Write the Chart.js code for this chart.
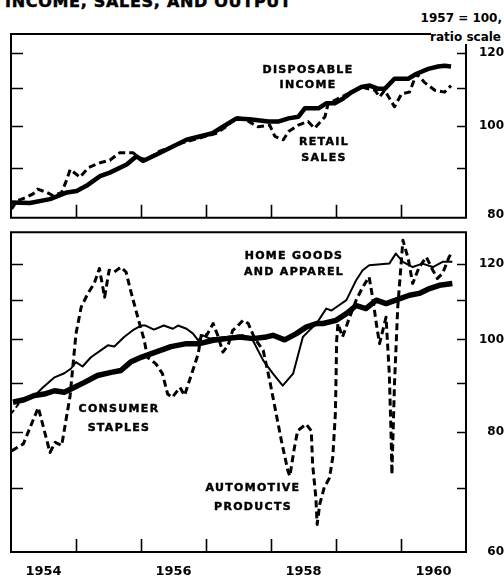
<!DOCTYPE html>
<html><head><meta charset="utf-8">
<script src="https://cdn.jsdelivr.net/npm/chart.js@4"></script>
<style>
html,body{margin:0;padding:0;background:#fff;}
body{width:504px;height:577px;position:relative;overflow:hidden;font-family:"DejaVu Sans",sans-serif;}
canvas{position:absolute;left:0;}
#c1{top:0;}
#c2{top:225px;}
.t{position:absolute;font-weight:bold;color:#000;white-space:nowrap;}
.ann{position:absolute;font-weight:bold;font-size:11px;letter-spacing:1.3px;text-align:center;transform:translateX(-50%);white-space:nowrap;color:#000;-webkit-text-stroke:0.45px #000;}
</style></head><body>
<div class="t" style="left:5px;top:-6px;font-size:16px;line-height:16px;letter-spacing:0.7px;-webkit-text-stroke:0.5px #000;">INCOME, SALES, AND OUTPUT</div>
<div class="t" style="right:2px;top:11px;font-size:12px;line-height:15px;">1957 = 100,</div>
<div class="t" style="right:3px;top:30px;font-size:12px;line-height:15px;">ratio scale</div>
<canvas id="c1" width="504" height="225"></canvas>
<canvas id="c2" width="504" height="352"></canvas>
<div class="ann" style="left:308px;top:62px;line-height:15px;">DISPOSABLE<br>INCOME</div>
<div class="ann" style="left:324px;top:134px;line-height:16px;">RETAIL<br>SALES</div>
<div class="ann" style="left:294px;top:248px;line-height:16px;">HOME GOODS<br>AND APPAREL</div>
<div class="ann" style="left:119px;top:399px;line-height:19px;">CONSUMER<br>STAPLES</div>
<div class="ann" style="left:253px;top:478px;line-height:19px;">AUTOMOTIVE<br>PRODUCTS</div>
<script>
// ---- data (1957 = 100), x in decimal years ----
const incomeT = [1954.01,1954.29,1954.60,1954.86,1955.01,1955.16,1955.37,1955.52,1955.78,1955.93,1956.03,1956.24,1956.49,1956.70,1956.90,1957.10,1957.26,1957.47,1957.67,1957.96,1958.11,1958.27,1958.42,1958.52,1958.73,1958.85,1958.98,1959.11,1959.24,1959.39,1959.52,1959.65,1959.75,1959.90,1960.11,1960.24,1960.42,1960.57,1960.67,1960.77];
const incomeV = [82.6,82.5,83.3,84.7,85.0,86.1,88.2,89.0,90.8,92.7,91.6,93.1,95.0,96.6,97.4,98.2,99.8,101.9,101.7,101.1,101.1,101.9,102.3,104.5,104.5,105.8,105.8,107.1,108.8,110.2,110.6,109.7,109.7,112.5,112.5,113.9,115.3,116.0,116.2,116.0];

const retailT = [1954.01,1954.09,1954.24,1954.34,1954.41,1954.55,1954.65,1954.78,1954.86,1954.91,1955.06,1955.19,1955.37,1955.52,1955.67,1955.88,1955.98,1956.08,1956.29,1956.49,1956.62,1956.90,1957.16,1957.31,1957.47,1957.62,1957.70,1957.80,1957.98,1958.06,1958.19,1958.27,1958.42,1958.57,1958.67,1958.83,1958.88,1958.98,1959.19,1959.39,1959.60,1959.67,1959.75,1959.90,1960.01,1960.13,1960.24,1960.36,1960.52,1960.67,1960.77];
const retailV = [81.3,82.9,83.7,84.4,85.4,84.7,84.0,84.7,87.5,89.7,88.0,90.1,91.2,91.8,93.5,93.5,92.3,91.9,93.9,95.0,95.8,97.0,98.2,99.8,102.2,101.5,100.7,99.8,100.2,97.4,96.6,98.6,100.2,101.1,99.4,102.3,105.8,106.6,108.4,110.2,109.3,107.5,109.3,104.9,108.4,108.8,113.9,111.5,109.3,108.8,110.6];

const staplesT = [1954.03,1954.20,1954.36,1954.51,1954.67,1954.82,1954.97,1955.13,1955.33,1955.54,1955.69,1955.84,1956.00,1956.15,1956.30,1956.46,1956.70,1956.90,1957.11,1957.31,1957.52,1957.72,1957.93,1958.03,1958.21,1958.39,1958.54,1958.70,1958.80,1959.00,1959.16,1959.31,1959.46,1959.62,1959.77,1959.92,1960.13,1960.28,1960.44,1960.59,1960.79];
const staplesV = [86.0,86.5,87.4,87.7,88.4,88.1,89.1,90.2,91.7,92.4,92.8,94.7,95.8,96.6,97.4,98.3,99.0,99.0,99.8,100.2,100.6,100.2,100.6,101.0,99.9,101.4,103.0,103.9,103.9,104.7,106.4,108.5,107.7,109.9,109.0,109.9,111.2,111.7,113.0,113.9,114.4];

const homeT = [1954.00,1954.12,1954.23,1954.35,1954.49,1954.67,1954.82,1954.92,1955.00,1955.10,1955.23,1955.38,1955.49,1955.59,1955.74,1955.89,1956.00,1956.07,1956.20,1956.35,1956.49,1956.57,1956.70,1956.80,1956.88,1956.95,1957.06,1957.31,1957.57,1957.72,1957.88,1958.03,1958.18,1958.34,1958.49,1958.59,1958.70,1958.85,1958.93,1959.16,1959.31,1959.41,1959.51,1959.82,1959.92,1960.03,1960.18,1960.33,1960.49,1960.64,1960.79];
const homeV = [83.6,85.7,86.5,87.2,89.1,91.3,92.2,93.2,94.7,93.7,95.8,97.4,98.6,98.3,100.6,102.4,103.4,103.4,102.4,103.4,102.6,103.4,102.6,101.4,99.8,101.0,100.2,100.6,101.0,99.8,95.1,92.1,89.5,92.1,100.6,102.2,103.9,107.7,107.2,109.9,115.3,118.1,119.5,120.0,122.9,120.5,119.0,120.0,119.0,120.5,120.5];

const autoT = [1954.01,1954.19,1954.42,1954.60,1954.68,1954.78,1954.91,1954.95,1955.00,1955.08,1955.18,1955.28,1955.36,1955.44,1955.51,1955.59,1955.69,1955.77,1955.84,1955.95,1956.05,1956.10,1956.23,1956.33,1956.41,1956.48,1956.60,1956.67,1956.78,1956.88,1956.93,1957.01,1957.11,1957.18,1957.26,1957.34,1957.41,1957.47,1957.57,1957.65,1957.75,1957.88,1957.98,1958.08,1958.16,1958.26,1958.29,1958.36,1958.41,1958.54,1958.62,1958.64,1958.69,1958.71,1958.75,1958.82,1958.90,1958.95,1958.99,1959.00,1959.01,1959.03,1959.10,1959.21,1959.31,1959.41,1959.51,1959.57,1959.62,1959.67,1959.72,1959.77,1959.82,1959.85,1959.86,1959.90,1959.95,1960.03,1960.11,1960.18,1960.28,1960.39,1960.49,1960.56,1960.64,1960.74,1960.79];
const autoV = [76.5,77.8,84.9,76.2,78.1,77.5,87.4,93.5,101.4,108.1,111.6,114.4,118.6,110.7,118.1,117.6,119.0,117.6,112.5,105.5,99.8,95.8,94.3,92.1,87.7,87.0,89.1,87.4,92.1,96.6,101.4,101.0,103.9,101.0,97.0,98.6,102.2,103.0,104.7,103.9,100.2,97.4,90.6,83.6,78.4,72.9,72.0,77.1,80.3,81.6,80.3,74.1,68.4,64.1,67.3,70.1,71.7,75.3,83.6,90.6,99.8,103.9,100.6,105.5,109.9,113.4,116.2,109.9,103.9,99.0,102.2,105.5,92.1,78.4,72.3,90.0,108.1,126.9,121.5,114.4,119.0,121.9,118.1,115.8,117.2,121.9,123.4];

const topTickLabels = [80, 100, 120];
const topTickMarks = [90, 100, 110, 120];
const botTickLabels = [60, 80, 100, 120];
const botTickMarks = [70, 80, 90, 100, 110, 120];
const yearMarks = [1955, 1956, 1957, 1958, 1959, 1960];
const yearLabels = [1954, 1956, 1958, 1960];

// ---- drawing ----
const pts = (T, V) => T.map((t, i) => ({x: t, y: V[i]}));

const framePlugin = {
  id: 'frame',
  afterDraw(chart, args, o) {
    const {ctx, chartArea: a, scales} = chart;
    ctx.save();
    ctx.strokeStyle = '#000';
    ctx.lineWidth = 2;
    ctx.beginPath();
    if (o.open) {
      ctx.moveTo(o.open.topEnd, a.top);
      ctx.lineTo(a.left, a.top);
      ctx.lineTo(a.left, a.bottom);
      ctx.lineTo(a.right, a.bottom);
      ctx.lineTo(a.right, o.open.rightStart);
    } else {
      ctx.rect(a.left, a.top, a.right - a.left, a.bottom - a.top);
    }
    ctx.stroke();
    ctx.lineWidth = 1.6;
    ctx.beginPath();
    o.yMarks.forEach(v => {
      const py = Math.round(scales.y.getPixelForValue(v)) + 0.5;
      ctx.moveTo(a.left, py); ctx.lineTo(a.left + 12, py);
      ctx.moveTo(a.right - 9, py); ctx.lineTo(a.right, py);
    });
    o.xMarks.forEach(v => {
      const px = Math.round(scales.x.getPixelForValue(v)) + 0.5;
      ctx.moveTo(px, a.bottom); ctx.lineTo(px, a.bottom - 13);
    });
    ctx.stroke();
    ctx.restore();
  }
};

function yScale(min, max, labels) {
  return {
    type: 'logarithmic', position: 'right', min, max,
    afterBuildTicks: s => { s.ticks = labels.map(v => ({value: v})); },
    afterFit: s => { s.width = 38; },
    ticks: {crossAlign: 'far', padding: 0, color: '#000', autoSkip: false,
      font: {family: 'DejaVu Sans', weight: 'bold', size: 12},
      callback: v => String(v)},
    grid: {display: false, drawTicks: false},
    border: {display: false}
  };
}

function baseOpts(padding, y, x, frameOpts) {
  return {
    responsive: false, animation: false, events: [],
    layout: {padding},
    plugins: {legend: {display: false}, tooltip: {enabled: false}, frame: frameOpts},
    elements: {point: {radius: 0}, line: {tension: 0, borderJoinStyle: 'round', borderCapStyle: 'butt', fill: false}},
    scales: {x, y}
  };
}

new Chart(document.getElementById('c1'), {
  type: 'line',
  data: {datasets: [
    {data: pts(retailT, retailV), borderColor: '#000', borderWidth: 3, borderDash: [7, 4]},
    {data: pts(incomeT, incomeV), borderColor: '#000', borderWidth: 4.5}
  ]},
  options: baseOpts({left: 11, top: 34, bottom: 6, right: 0},
    yScale(79.5, 125.8, topTickLabels),
    {type: 'linear', min: 1954, max: 1961, display: false},
    {yMarks: topTickMarks, xMarks: yearMarks, open: {topEnd: 431, rightStart: 44}}),
  plugins: [framePlugin]
});

new Chart(document.getElementById('c2'), {
  type: 'line',
  data: {datasets: [
    {data: pts(autoT, autoV), borderColor: '#000', borderWidth: 3, borderDash: [7, 4]},
    {data: pts(homeT, homeV), borderColor: '#000', borderWidth: 2,
      segment: {borderDash: c => c.p0DataIndex < 2 ? [5, 3] : undefined}},
    {data: pts(staplesT, staplesV), borderColor: '#000', borderWidth: 5.5}
  ]},
  options: baseOpts({left: 11, top: 7, bottom: 0, right: 0},
    yScale(60, 129.4, botTickLabels),
    {type: 'linear', min: 1954, max: 1961, position: 'bottom',
      afterBuildTicks: s => { s.ticks = yearLabels.map(v => ({value: v + 0.5})); },
      afterFit: s => { s.height = 25; },
      ticks: {autoSkip: false, maxRotation: 0, padding: 12, color: '#000',
        font: {family: 'DejaVu Sans', weight: 'bold', size: 13},
        callback: v => String(Math.floor(v))},
      grid: {display: false, drawTicks: false},
      border: {display: false}},
    {yMarks: botTickMarks, xMarks: yearMarks}),
  plugins: [framePlugin]
});
</script>
</body></html>
